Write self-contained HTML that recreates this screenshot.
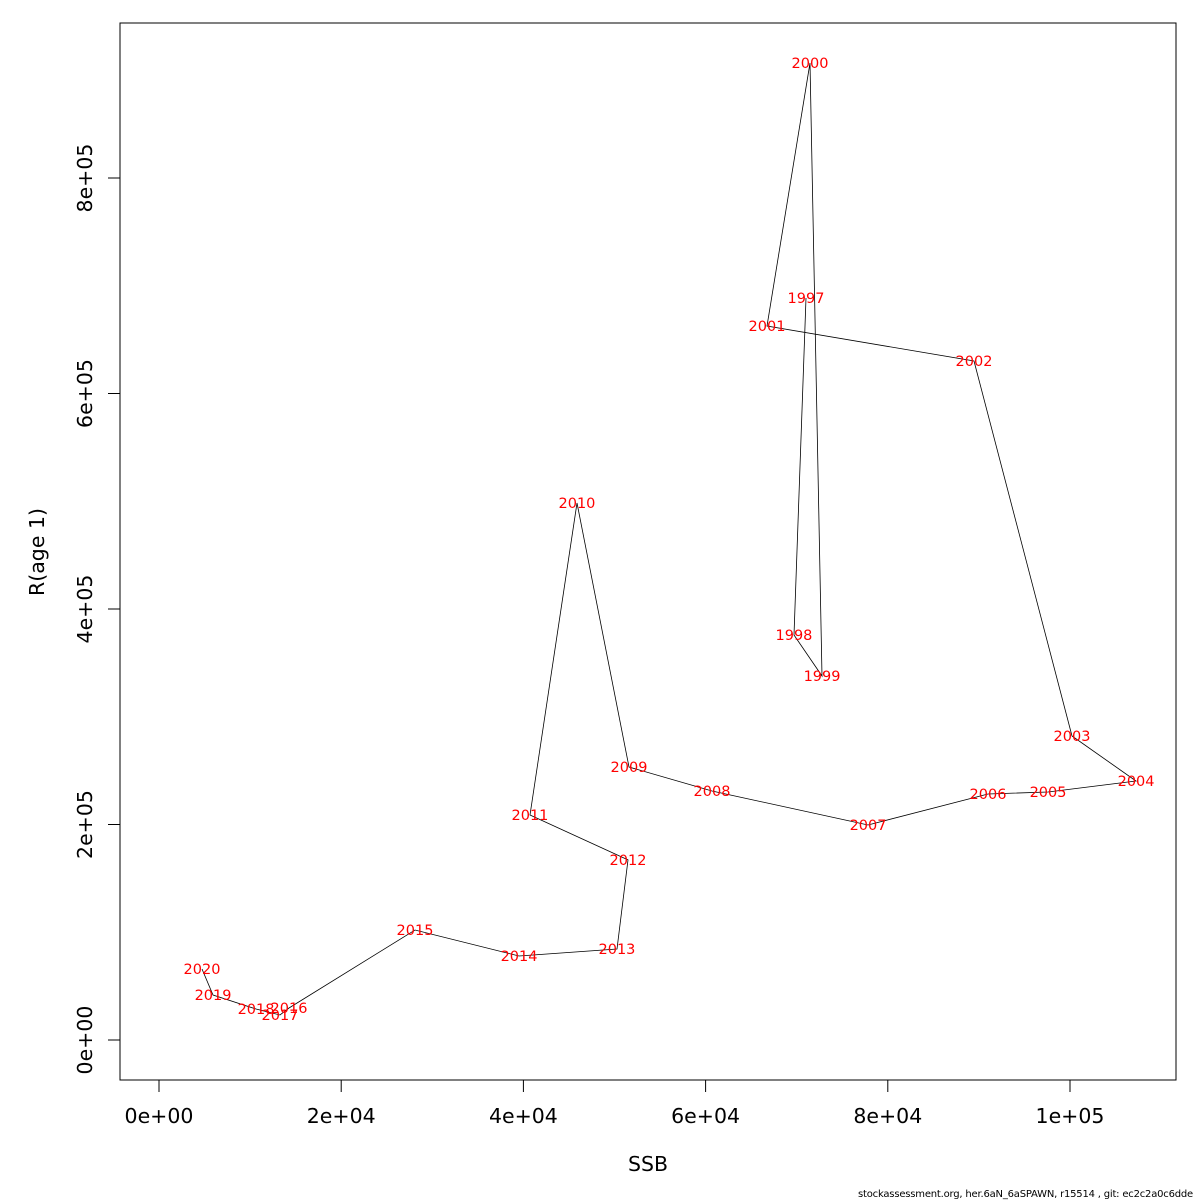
<!DOCTYPE html>
<html><head><meta charset="utf-8"><style>
html,body{margin:0;padding:0;background:#fff;width:1200px;height:1200px;overflow:hidden}
svg{font-family:"DejaVu Sans","Liberation Sans",sans-serif}
</style></head><body>
<svg id="chart" width="1200" height="1200" viewBox="0 0 1200 1200" xmlns="http://www.w3.org/2000/svg">
<rect x="0" y="0" width="1200" height="1200" fill="#fff"/>
<rect x="120" y="23" width="1056" height="1057" fill="none" stroke="#000" stroke-width="1"/>
<g id="xaxis"></g>
<g id="yaxis"></g>
<g id="series"></g>
<text x="648" y="1171" font-size="20.5" text-anchor="middle">SSB</text>
<text x="44" y="552" font-size="20.5" text-anchor="middle" transform="rotate(-90 44 552)">R(age 1)</text>
<text x="1193" y="1197" font-size="10" text-anchor="end" letter-spacing="-0.2">stockassessment.org, her.6aN_6aSPAWN, r15514 , git: ec2c2a0c6dde</text>
</svg>
<script>
const years = [1997,1998,1999,2000,2001,2002,2003,2004,2005,2006,2007,2008,2009,2010,2011,2012,2013,2014,2015,2016,2017,2018,2019,2020];
const ssb = [71020,69700,72780,71460,66740,89460,100220,107250,97590,91000,77830,60700,51590,45880,40720,51480,50270,39520,28100,14270,13280,10650,5930,4720];
const recruits = [688600,375900,337800,906700,662600,630200,282100,240400,230200,228300,199500,231100,253400,498400,208800,167100,84500,78000,102100,29700,23200,28800,41800,65900];
const xTicks = [0,20000,40000,60000,80000,100000];
const xTickLabels = ["0e+00","2e+04","4e+04","6e+04","8e+04","1e+05"];
const yTicks = [0,200000,400000,600000,800000];
const yTickLabels = ["0e+00","2e+05","4e+05","6e+05","8e+05"];

const NS = "http://www.w3.org/2000/svg";
function xs(v){ return 159 + v * (1070-159)/100000; }
function ys(v){ return 1040 - v * (1040-178)/800000; }
function mk(tag, attrs, parent){ const e=document.createElementNS(NS,tag); for(const k in attrs) e.setAttribute(k,attrs[k]); parent.appendChild(e); return e; }

const xg=document.getElementById('xaxis');
mk('line',{x1:xs(xTicks[0]),x2:xs(xTicks[xTicks.length-1]),y1:1080,y2:1080,stroke:'#000'},xg);
xTicks.forEach((t,i)=>{
  const l=mk('line',{x1:xs(t),x2:xs(t),y1:1080,y2:1092,stroke:'#000'},xg);
  
  
  const tx=mk('text',{x:xs(t),y:1123,'font-size':20.5,'text-anchor':'middle'},xg);
  tx.textContent=xTickLabels[i];
  
  
});
const yg=document.getElementById('yaxis');
mk('line',{x1:120,x2:120,y1:ys(yTicks[0]),y2:ys(yTicks[yTicks.length-1]),stroke:'#000'},yg);
yTicks.forEach((t,i)=>{
  const l=mk('line',{x1:108,x2:120,y1:ys(t),y2:ys(t),stroke:'#000'},yg);
  
  
  const tx=mk('text',{x:92,y:ys(t),'font-size':20.5,'text-anchor':'middle',transform:`rotate(-90 92 ${ys(t)})`},yg);
  tx.textContent=yTickLabels[i];
  
  
});

const sg=document.getElementById('series');
const pts=years.map((y,i)=>xs(ssb[i]).toFixed(1)+','+ys(recruits[i]).toFixed(1)).join(' ');
const pl=mk('polyline',{points:pts,fill:'none',stroke:'#000','stroke-width':0.8},sg);


years.forEach((y,i)=>{
  const t=mk('text',{x:xs(ssb[i]),y:ys(recruits[i])+5,'font-size':14.5,fill:'#ff0000','text-anchor':'middle'},sg);
  t.textContent=y;
  
  
});
</script>
</body></html>
